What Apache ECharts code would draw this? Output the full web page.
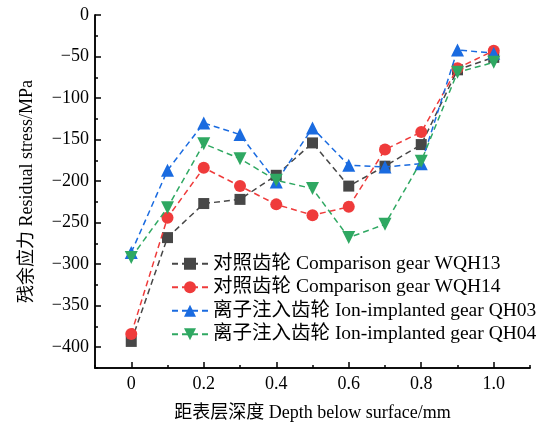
<!DOCTYPE html>
<html>
<head>
<meta charset="utf-8">
<script src="https://cdn.jsdelivr.net/npm/echarts@6/dist/echarts.min.js"></script>
<style>html,body{margin:0;padding:0;background:#fff;}#c{width:538px;height:423px;}</style>
</head>
<body>
<div id="c"></div>
<script>
var depth = [0, 0.1, 0.2, 0.3, 0.4, 0.5, 0.6, 0.7, 0.8, 0.9, 1.0];
var wqh13 = [-393, -268, -227, -222, -193, -154, -206, -182, -156, -66, -51];
var wqh14 = [-384, -244, -184, -206, -228, -241, -231, -162, -141, -64, -43];
var qh03 = [-286, -187, -130, -144, -201, -136, -181, -183, -179, -42, -46];
var qh04 = [-292, -232, -155, -173, -199, -209, -268, -252, -176, -69, -57];
var seriesNames = ['对照齿轮 Comparison gear WQH13', '对照齿轮 Comparison gear WQH14', '离子注入齿轮 Ion-implanted gear QH03', '离子注入齿轮 Ion-implanted gear QH04'];
var xName = '距表层深度 Depth below surface/mm';
var yName = '残余应力 Residual stress/MPa';

var FONT = "'Liberation Serif', 'Noto Sans CJK SC', serif";
function pairs(arr) { return depth.map(function (d, i) { return [d, arr[i]]; }); }
function fmt(v) { var s = String(Math.round(v * 100) / 100); if (s === '1') s = '1.0'; return s.replace('-', '\u2212'); }

var colors = ['#474747', '#ef3b3b', '#1a6be0', '#2fa862'];
var symbols = ['rect', 'circle', 'triangle', 'triangle'];
var sizes = [11, 12, 13, 13];
var rot = [0, 0, 0, 180];
var datas = [wqh13, wqh14, qh03, qh04];

var series = datas.map(function (d, i) {
  return {
    name: seriesNames[i], type: 'line', xAxisIndex: 0, yAxisIndex: 0,
    data: pairs(d), symbol: symbols[i], symbolSize: sizes[i], symbolRotate: rot[i],
    lineStyle: { color: colors[i], width: 1.5, type: [6, 4] },
    itemStyle: { color: colors[i] }, z: 2 + i
  };
});

var axisLineStyle = { show: true, onZero: false, lineStyle: { color: '#000', width: 1.5 } };
var chart = echarts.init(document.getElementById('c'));
chart.setOption({
  animation: false,
  backgroundColor: '#fff',
  grid: { left: 95, top: 15, right: 8, bottom: 55, containLabel: false, outerBoundsMode: 'none' },
  legend: {
    orient: 'vertical', left: 166, top: 249, itemGap: 4, itemWidth: 36, itemHeight: 15,
    textStyle: { fontFamily: FONT, fontSize: 19.5, color: '#000', lineHeight: 19 },
    data: seriesNames
  },
  xAxis: [
    { type: 'value', min: -0.1, max: 1.1, interval: 0.1, position: 'bottom',
      axisLine: axisLineStyle, axisTick: { inside: true, length: 3, lineStyle: { color: '#000', width: 1.5 } },
      axisLabel: { show: false }, splitLine: { show: false } },
    { type: 'value', min: -0.1, max: 1.1, minInterval: 0.2, maxInterval: 0.2, position: 'bottom',
      axisLine: axisLineStyle, axisTick: { inside: true, length: 6, lineStyle: { color: '#000', width: 1.5 } },
      axisLabel: { showMinLabel: false, showMaxLabel: false, formatter: fmt, fontFamily: FONT, fontSize: 18, color: '#000', margin: 7 },
      splitLine: { show: false },
      name: xName, nameLocation: 'middle', nameGap: 36,
      nameTextStyle: { fontFamily: FONT, fontSize: 18, color: '#000' } }
  ],
  yAxis: [
    { type: 'value', min: -425, max: 0, interval: 25, position: 'left',
      axisLine: axisLineStyle, axisTick: { inside: true, length: 3, lineStyle: { color: '#000', width: 1.5 } },
      axisLabel: { show: false }, splitLine: { show: false } },
    { type: 'value', min: -425, max: 0, minInterval: 50, maxInterval: 50, position: 'left',
      axisLine: axisLineStyle, axisTick: { inside: true, length: 6, lineStyle: { color: '#000', width: 1.5 } },
      axisLabel: { showMinLabel: false, formatter: fmt, fontFamily: FONT, fontSize: 18, color: '#000', margin: 6 },
      splitLine: { show: false },
      name: yName, nameLocation: 'middle', nameGap: 59, nameRotate: 90,
      nameTextStyle: { fontFamily: FONT, fontSize: 18, color: '#000' } }
  ],
  series: series
});
</script>
</body>
</html>
